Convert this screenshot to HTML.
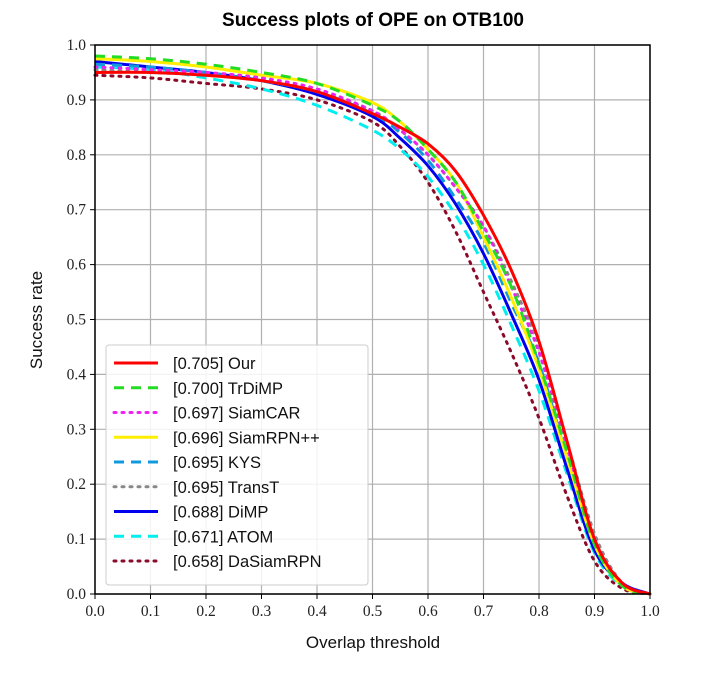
<!DOCTYPE html>
<html><head><meta charset="utf-8"><style>
body{margin:0;background:#fff;}
svg text{font-family:"Liberation Sans",sans-serif;}
.tick{font-family:"Liberation Serif",serif;font-size:15.5px;fill:#222;}
</style></head><body>
<svg id="chart" width="705" height="673" xmlns="http://www.w3.org/2000/svg">
<text x="373" y="26" text-anchor="middle" font-size="19" font-weight="bold" fill="#000">Success plots of OPE on OTB100</text>
<g id="grid"></g>
<g id="series"></g>
<rect x="95" y="45" width="555" height="549" fill="none" stroke="#000" stroke-width="1.5"/>
<g id="ticks"></g>
<text x="373" y="648" text-anchor="middle" font-size="17" fill="#111">Overlap threshold</text>
<text transform="translate(42,320) rotate(-90)" text-anchor="middle" font-size="17" fill="#111">Success rate</text>
<g id="legend"></g>
</svg>
<script>
const xs = [0,0.1,0.2,0.3,0.4,0.5,0.55,0.6,0.65,0.7,0.75,0.8,0.85,0.9,0.95,1.0];
const names = ["Our","TrDiMP","SiamCAR","SiamRPN++","KYS","TransT","DiMP","ATOM","DaSiamRPN"];
const scores = ["0.705","0.700","0.697","0.696","0.695","0.695","0.688","0.671","0.658"];
const colors = ["#ff0000","#22dd22","#ee22ee","#ffee00","#1199dd","#888888","#0000ee","#00eeee","#8b0a2a"];
const dashes = ["","10,7","2,6","","10,7","2,6","","10,7","2,6"];
const yOur = [0.95,0.95,0.945,0.935,0.915,0.875,0.85,0.82,0.77,0.69,0.59,0.46,0.28,0.10,0.02,0];
const yTrDiMP = [0.98,0.975,0.965,0.95,0.93,0.89,0.86,0.81,0.75,0.66,0.56,0.42,0.26,0.09,0.015,0];
const ySiamCAR = [0.96,0.955,0.95,0.94,0.92,0.88,0.845,0.80,0.74,0.67,0.56,0.44,0.27,0.10,0.02,0];
const ySiamRPN = [0.975,0.97,0.96,0.945,0.93,0.895,0.86,0.81,0.75,0.65,0.54,0.41,0.25,0.09,0.015,0];
const yKYS = [0.965,0.96,0.95,0.935,0.915,0.875,0.84,0.79,0.72,0.64,0.53,0.42,0.25,0.09,0.015,0];
const yTransT = [0.955,0.95,0.945,0.935,0.915,0.88,0.845,0.80,0.74,0.67,0.57,0.45,0.28,0.11,0.02,0];
const yDiMP = [0.97,0.96,0.95,0.935,0.91,0.87,0.83,0.78,0.71,0.62,0.51,0.39,0.23,0.08,0.02,0];
const yATOM = [0.96,0.955,0.94,0.92,0.89,0.845,0.81,0.76,0.69,0.60,0.49,0.37,0.22,0.075,0.015,0];
const yDaSiam = [0.945,0.94,0.93,0.92,0.90,0.86,0.815,0.75,0.66,0.55,0.44,0.32,0.18,0.06,0.01,0];
const allY = [yOur,yTrDiMP,ySiamCAR,ySiamRPN,yKYS,yTransT,yDiMP,yATOM,yDaSiam];
const tickVals = [0,0.1,0.2,0.3,0.4,0.5,0.6,0.7,0.8,0.9,1.0];
const tickLabels = ["0.0","0.1","0.2","0.3","0.4","0.5","0.6","0.7","0.8","0.9","1.0"];

const NS="http://www.w3.org/2000/svg";
const X0=95,X1=650,Y0=594,Y1=45;
const sx=v=>X0+(X1-X0)*v, sy=v=>Y0-(Y0-Y1)*v;
function mk(t,a,p){const e=document.createElementNS(NS,t);for(const k in a)e.setAttribute(k,a[k]);p.appendChild(e);return e;}
function smooth(P){
  let d='M'+P[0][0]+','+P[0][1];
  for(let i=0;i<P.length-1;i++){
    const p0=P[Math.max(0,i-1)],p1=P[i],p2=P[i+1],p3=P[Math.min(P.length-1,i+2)];
    const c1=[p1[0]+(p2[0]-p0[0])/6,p1[1]+(p2[1]-p0[1])/6];
    const c2=[p2[0]-(p3[0]-p1[0])/6,p2[1]-(p3[1]-p1[1])/6];
    d+=' C'+c1[0]+','+c1[1]+' '+c2[0]+','+c2[1]+' '+p2[0]+','+p2[1];
  }
  return d;
}
const grid=document.getElementById('grid'),ticks=document.getElementById('ticks');
tickVals.forEach((v,i)=>{
  const gx=mk('line',{x1:sx(v),x2:sx(v),y1:Y1,y2:Y0,stroke:'#b0b0b0','stroke-width':1.2},grid);
  
  
  const gy=mk('line',{x1:X0,x2:X1,y1:sy(v),y2:sy(v),stroke:'#b0b0b0','stroke-width':1.2},grid);
  
  
  mk('line',{x1:sx(v),x2:sx(v),y1:Y0,y2:Y0+5,stroke:'#000'},ticks);
  mk('line',{x1:X0-5,x2:X0,y1:sy(v),y2:sy(v),stroke:'#000'},ticks);
  const tx=mk('text',{x:sx(v),y:Y0+22,'text-anchor':'middle',class:'tick'},ticks);
  tx.textContent=tickLabels[i];
  
  
  const ty=mk('text',{x:X0-9,y:sy(v)+5,'text-anchor':'end',class:'tick'},ticks);
  ty.textContent=tickLabels[i];
  
  
});
const ser=document.getElementById('series');
for(let s=allY.length-1;s>=0;s--){
  const P=xs.map((x,i)=>[sx(x),sy(allY[s][i])]);
  const dotted=dashes[s]==="2,6";
  const pl=mk('path',{d:smooth(P),fill:'none',stroke:colors[s],'stroke-width':3,'stroke-dasharray':dashes[s]||'none','stroke-linecap':dotted?'round':'butt','stroke-linejoin':'round'},ser);
  
  
}
const lg=document.getElementById('legend');
mk('rect',{x:106,y:345,width:262,height:240,rx:3,fill:'#fff','fill-opacity':0.85,stroke:'#cccccc'},lg);
names.forEach((n,i)=>{
  const y=363+i*24.75;
  const dotted=dashes[i]==="2,6";
  const l=mk('line',{x1:114,x2:158,y1:y,y2:y,stroke:colors[i],'stroke-width':3,'stroke-dasharray':dashes[i]||'none','stroke-linecap':dotted?'round':'butt'},lg);
  
  
  const t=mk('text',{x:173,y:y+6,'font-size':16.5,fill:'#111'},lg);
  t.textContent='['+scores[i]+'] '+n;
  
  
});
</script>
</body></html>
